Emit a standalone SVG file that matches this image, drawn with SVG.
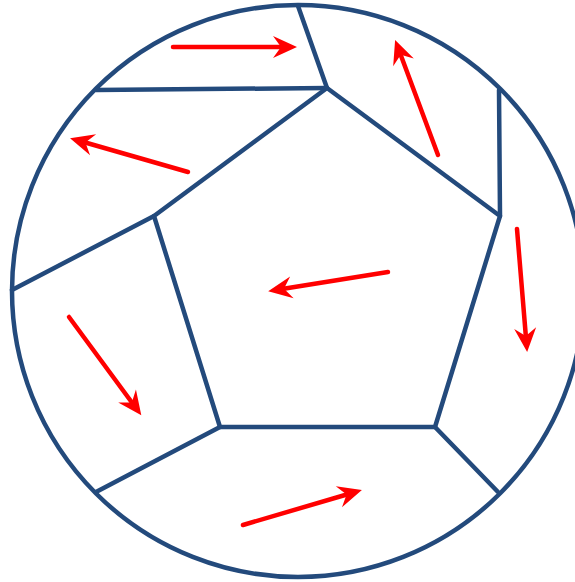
<svg xmlns="http://www.w3.org/2000/svg" width="575" height="582" viewBox="0 0 575 582">
<style>
.b{fill:none;stroke:#234a7c;stroke-width:4.5px;stroke-linejoin:round;stroke-linecap:round}
.r{fill:none;stroke:#ff0000;stroke-width:4.5px;stroke-linecap:round}
</style>
<defs>
<marker id="ah" markerUnits="userSpaceOnUse" viewBox="0 -12 25 24" refX="10" refY="0" markerWidth="25" markerHeight="24" orient="auto" overflow="visible">
<path d="M0,-11 L24,0 L0,11 L8,0 Z" fill="#ff0000"/>
</marker>
</defs>
<rect width="575" height="582" fill="#ffffff"/>
<g id="ball">
<circle class="b" cx="298" cy="291" r="286"/>
</g>
<g id="pentagon">
<polygon class="b" points="327,88 500,216 435,427 220,427 154,216"/>
</g>
<g id="dividers">
<line class="b" x1="327" y1="88" x2="298" y2="6"/>
<line class="b" x1="327" y1="88" x2="96" y2="90"/>
<line class="b" x1="500" y1="216" x2="499" y2="90"/>
<line class="b" x1="154" y1="216" x2="12" y2="290"/>
<line class="b" x1="220" y1="427" x2="96" y2="492"/>
<line class="b" x1="435" y1="427" x2="498" y2="492"/>
</g>
<g id="connectors">
<line class="r" marker-end="url(#ah)" x1="173" y1="47" x2="283" y2="47"/>
<line class="r" marker-end="url(#ah)" x1="438" y1="155" x2="400" y2="53"/>
<line class="r" marker-end="url(#ah)" x1="188" y1="172" x2="83.5" y2="142"/>
<line class="r" marker-end="url(#ah)" x1="517" y1="229" x2="526" y2="338"/>
<line class="r" marker-end="url(#ah)" x1="388" y1="272" x2="282" y2="289"/>
<line class="r" marker-end="url(#ah)" x1="69" y1="317" x2="133" y2="404"/>
<line class="r" marker-end="url(#ah)" x1="243" y1="525" x2="348.5" y2="494"/>
</g>
</svg>
